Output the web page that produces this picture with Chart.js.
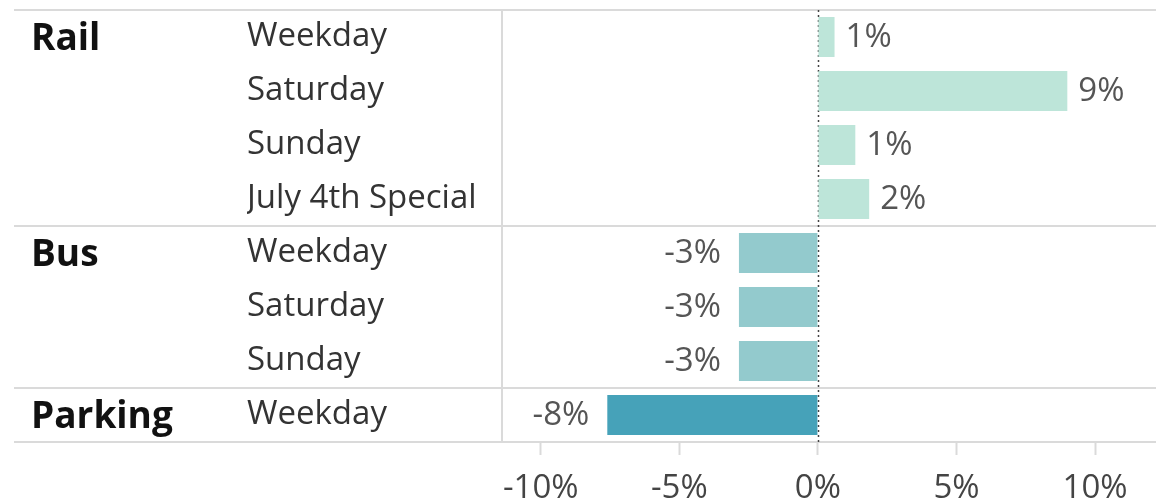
<!DOCTYPE html>
<html>
<head>
<meta charset="utf-8">
<script src="https://cdn.jsdelivr.net/npm/chart.js@4"></script>
<style>
  html, body { margin: 0; padding: 0; background: #fff; }
  #wrap { width: 1156px; height: 500px; }
</style>
</head>
<body>
<div id="wrap"><canvas id="ridership"></canvas></div>
<script>
// Datos
const groups = ['Rail', 'Bus', 'Parking'];
const groupSizes = [4, 3, 1];
const categories = ['Weekday', 'Saturday', 'Sunday', 'July 4th Special', 'Weekday', 'Saturday', 'Sunday', 'Weekday'];
const changes = [0.6, 9.0, 1.35, 1.85, -2.85, -2.85, -2.85, -7.6];
const barColors = ['#bde5d9', '#bde5d9', '#bde5d9', '#bde5d9', '#93cacd', '#93cacd', '#93cacd', '#46a2b9'];
const xTicks = [-10, -5, 0, 5, 10];

const FONT = "'Open Sans', 'Noto Sans', sans-serif";
const LINE = '#dadada';

// Lineas de separacion, linea del cero y nombres de grupo
const framePlugin = {
    id: 'frame',
    beforeDatasetsDraw(chart) {
        const ctx = chart.ctx;
        const area = chart.chartArea;
        const x = chart.scales.x;
        const y = chart.scales.y;
        const rowH = (area.bottom - area.top) / categories.length;
        ctx.save();
        ctx.strokeStyle = LINE;
        ctx.lineWidth = 2;
        // separadores horizontales
        let idx = 0;
        const bounds = [0];
        groupSizes.forEach(n => { idx += n; bounds.push(idx); });
        bounds.forEach(b => {
            const py = area.top + b * rowH;
            ctx.beginPath();
            ctx.moveTo(14, py);
            ctx.lineTo(chart.width, py);
            ctx.stroke();
        });
        // linea vertical a la izquierda del area
        ctx.beginPath();
        ctx.moveTo(area.left, area.top);
        ctx.lineTo(area.left, area.bottom);
        ctx.stroke();
        // linea del cero punteada
        const zx = Math.round(x.getPixelForValue(0)) + 0.5;
        ctx.strokeStyle = '#444';
        ctx.lineWidth = 1.5;
        ctx.setLineDash([2, 3]);
        ctx.beginPath();
        ctx.moveTo(zx, area.top);
        ctx.lineTo(zx, area.bottom);
        ctx.stroke();
        ctx.setLineDash([]);
        // nombres de grupo
        ctx.fillStyle = '#111';
        ctx.font = 'bold 37px ' + FONT;
        ctx.textBaseline = 'middle';
        ctx.textAlign = 'left';
        let start = 0;
        groups.forEach((g, i) => {
            ctx.fillText(g, 31, y.getPixelForValue(start) + 2);
            start += groupSizes[i];
        });
        ctx.restore();
    },
    afterDatasetsDraw(chart) {
        const ctx = chart.ctx;
        const meta = chart.getDatasetMeta(0);
        ctx.save();
        ctx.fillStyle = '#555';
        ctx.font = '33px ' + FONT;
        ctx.textBaseline = 'middle';
        meta.data.forEach((bar, i) => {
            const v = changes[i];
            const txt = Math.round(v) + '%';
            if (v >= 0) {
                ctx.textAlign = 'left';
                ctx.fillText(txt, bar.x + 11, bar.y + 1);
            } else {
                ctx.textAlign = 'right';
                ctx.fillText(txt, bar.x - 18, bar.y + 1);
            }
        });
        ctx.restore();
    }
};

new Chart(document.getElementById('ridership'), {
    type: 'bar',
    data: {
        labels: categories,
        datasets: [{
            data: changes,
            backgroundColor: barColors,
            borderWidth: 0,
            categoryPercentage: 1,
            barPercentage: 0.74
        }]
    },
    options: {
        indexAxis: 'y',
        responsive: true,
        maintainAspectRatio: false,
        animation: false,
        layout: { padding: { left: 247, top: 10, right: 0, bottom: 0 } },
        scales: {
            x: {
                min: -11.4,
                max: 12.2,
                afterBuildTicks(scale) {
                    scale.ticks = xTicks.map(v => ({ value: v }));
                },
                afterFit(scale) {
                    scale.height = 58;
                    scale.paddingLeft = 0;
                    scale.paddingRight = 0;
                },
                grid: {
                    drawOnChartArea: false,
                    drawTicks: true,
                    tickLength: 13,
                    tickColor: LINE,
                    tickWidth: 2
                },
                border: { display: false },
                ticks: {
                    padding: 14,
                    color: '#444',
                    font: { family: FONT, size: 33 },
                    callback: v => v + '%'
                }
            },
            y: {
                afterFit(scale) {
                    scale.width = 255;
                    scale.paddingTop = 0;
                    scale.paddingBottom = 0;
                },
                grid: { display: false },
                border: { display: false },
                ticks: {
                    crossAlign: 'far',
                    color: '#333',
                    font: { family: FONT, size: 33, lineHeight: 1.1 }
                }
            }
        },
        plugins: {
            legend: { display: false },
            tooltip: { enabled: false }
        }
    },
    plugins: [framePlugin]
});
</script>
</body>
</html>
